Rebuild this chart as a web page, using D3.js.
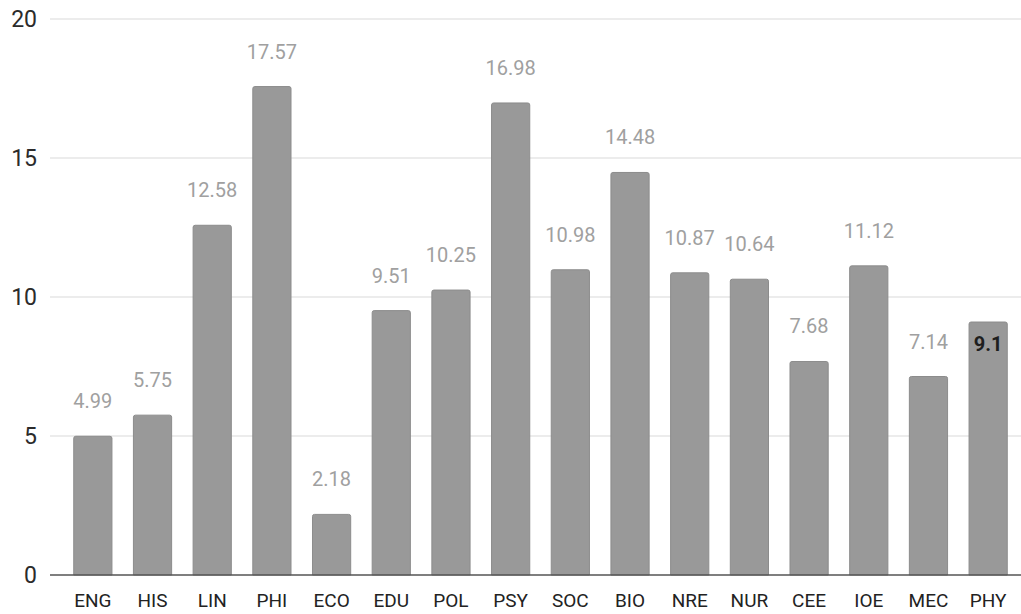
<!DOCTYPE html>
<html>
<head>
<meta charset="utf-8">
<script src="https://cdn.jsdelivr.net/npm/d3@7"></script>
<style>
  html, body { margin: 0; padding: 0; background: #fff; }
  svg { display: block; font-family: Roboto, "Noto Sans", sans-serif; }
</style>
</head>
<body>
<svg id="chart" width="1021" height="614"></svg>
<script>
// Department codes and their values
const categories = ["ENG","HIS","LIN","PHI","ECO","EDU","POL","PSY","SOC","BIO","NRE","NUR","CEE","IOE","MEC","PHY"];
const values = [4.99, 5.75, 12.58, 17.57, 2.18, 9.51, 10.25, 16.98, 10.98, 14.48, 10.87, 10.64, 7.68, 11.12, 7.14, 9.1];
const yTicks = [0, 5, 10, 15, 20];
// Bar whose label is drawn highlighted on the bar itself
const highlighted = "PHY";

const svg = d3.select("#chart");
const W = 1021, H = 614;
const gridLeft = 50, gridRight = W;
const plotTop = 19, plotBottom = 575;

const x = d3.scaleBand()
  .domain(categories)
  .range([63, 1018])
  .paddingInner(0.36)
  .paddingOuter(0.18);

const y = d3.scaleLinear().domain([0, 20]).range([plotBottom, plotTop]);

// horizontal gridlines
svg.append("g")
  .selectAll("line")
  .data(yTicks.filter(d => d !== 0))
  .join("line")
  .attr("x1", gridLeft).attr("x2", gridRight)
  .attr("y1", d => y(d)).attr("y2", d => y(d))
  .attr("stroke", "#d9d9d9").attr("stroke-width", 1.2);

// y tick labels
svg.append("g")
  .selectAll("text")
  .data(yTicks)
  .join("text")
  .attr("x", 37)
  .attr("y", d => y(d))
  .attr("dy", "0.36em")
  .attr("text-anchor", "end")
  .attr("font-size", 23)
  .attr("fill", "#2b2b2b")
  .text(d => d);

// bars
const data = categories.map((c, i) => ({ c, v: values[i] }));
svg.append("g")
  .selectAll("path")
  .data(data)
  .join("path")
  .attr("d", d => {
    const x0 = x(d.c), w = x.bandwidth(), y0 = y(d.v), yb = y(0), r = 2;
    return `M${x0},${yb}V${y0 + r}Q${x0},${y0} ${x0 + r},${y0}H${x0 + w - r}Q${x0 + w},${y0} ${x0 + w},${y0 + r}V${yb}Z`;
  })
  .attr("fill", "#999999")
  .attr("stroke", "#8c8c8c")
  .attr("stroke-width", 1);

// baseline
svg.append("line")
  .attr("x1", gridLeft).attr("x2", gridRight)
  .attr("y1", y(0)).attr("y2", y(0))
  .attr("stroke", "#555").attr("stroke-width", 1.5);

// value labels
svg.append("g")
  .selectAll("text")
  .data(data)
  .join("text")
  .attr("x", d => x(d.c) + x.bandwidth() / 2)
  .attr("y", d => d.c === highlighted ? y(d.v) + 29 : y(d.v) - 28)
  .attr("text-anchor", "middle")
  .attr("font-size", 20)
  .attr("font-weight", d => d.c === highlighted ? 700 : 400)
  .attr("fill", d => d.c === highlighted ? "#1e1e1e" : "#a0a0a0")
  .text(d => d.v);

// x category labels
svg.append("g")
  .selectAll("text")
  .data(categories)
  .join("text")
  .attr("x", d => x(d) + x.bandwidth() / 2)
  .attr("y", 607)
  .attr("text-anchor", "middle")
  .attr("font-size", 19)
  .attr("fill", "#222")
  .text(d => d);
</script>
</body>
</html>
